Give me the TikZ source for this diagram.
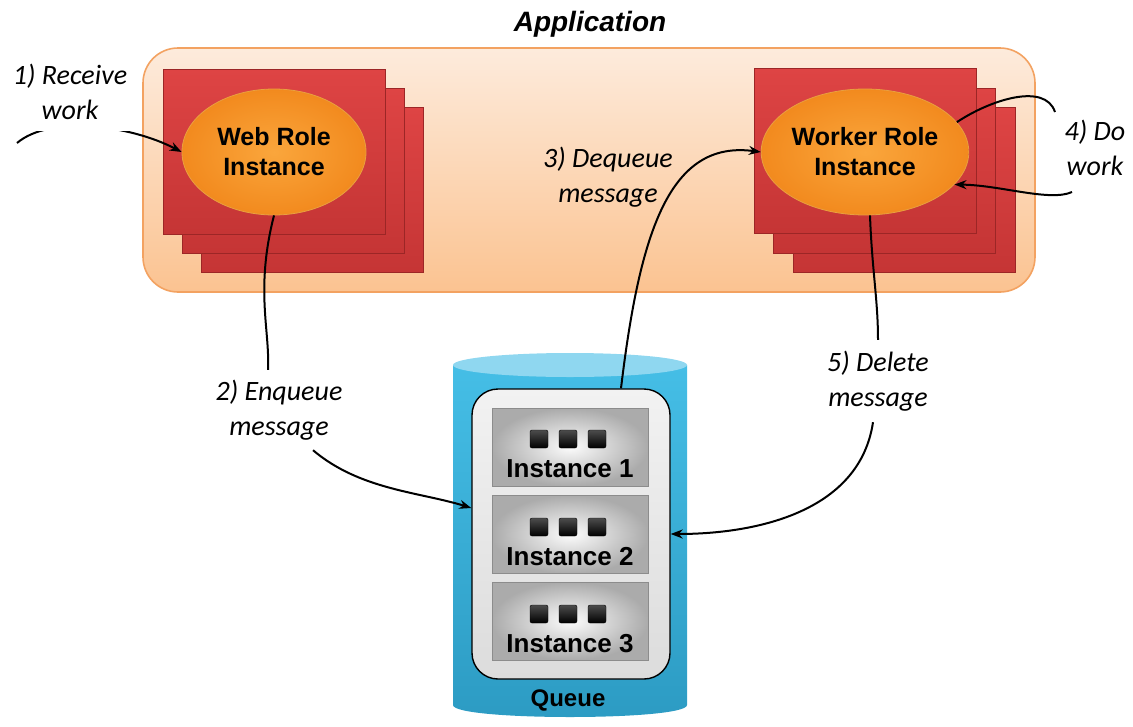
\documentclass[tikz,border=0pt]{standalone}
\usepackage{fontspec}
\setmainfont{Liberation Sans}
\newfontfamily\lblfont{Carlito}
\usetikzlibrary{arrows.meta,shapes.geometric}
\definecolor{appfillA}{HTML}{FDEBDC}
\definecolor{appfillB}{HTML}{FBC391}
\definecolor{appline}{HTML}{F3A261}
\definecolor{redA}{HTML}{DE4444}
\definecolor{redB}{HTML}{C53535}
\definecolor{redline}{HTML}{9C2626}
\definecolor{orA}{HTML}{FAA63C}
\definecolor{orB}{HTML}{F28A1E}
\definecolor{orline}{HTML}{E8A040}
\definecolor{cylA}{HTML}{45BEE6}
\definecolor{cylB}{HTML}{2C9BC3}
\definecolor{cyltop}{HTML}{8FD7F0}
\definecolor{qfillA}{HTML}{F2F2F2}
\definecolor{qfillB}{HTML}{DCDCDC}
\definecolor{silverA}{HTML}{FCFCFC}
\definecolor{silverB}{HTML}{ABABAB}
\begin{document}
\begin{tikzpicture}[x=1pt,y=-1pt,
  appbox/.style={rectangle, rounded corners=35pt, minimum width=892pt, minimum height=244pt, inner sep=0pt, top color=appfillA, bottom color=appfillB, draw=appline, line width=1.6pt},
  redcard/.style={rectangle, minimum width=222pt, minimum height=165pt, inner sep=0pt, top color=redA, bottom color=redB, draw=redline, line width=0.8pt},
  roleoval/.style={ellipse, minimum width=184pt, minimum height=126pt, inner sep=0pt, inner color=orA, outer color=orB, draw=orline, line width=0.8pt, align=center, font=\fontsize{25}{30}\selectfont\bfseries},
  qframe/.style={rectangle, rounded corners=26pt, minimum width=198pt, minimum height=290pt, inner sep=0pt, top color=qfillA, bottom color=qfillB, draw=black, line width=1.4pt},
  instbox/.style={rectangle, minimum width=156pt, minimum height=78pt, inner sep=0pt, inner color=silverA, outer color=silverB, draw=black!45, line width=0.6pt},
  insttext/.style={font=\fontsize{26}{30}\selectfont\bfseries, inner sep=0pt},
  sqr/.style={rectangle, rounded corners=2pt, minimum size=18pt, inner sep=0pt, top color=black!70, bottom color=black, draw=black},
  lbl/.style={align=center, inner sep=0pt, font=\fontsize{28}{35}\selectfont\lblfont\itshape},
  conn/.style={line width=2pt, draw=black},
  arrowconn/.style={conn, -{Stealth[length=12pt,width=9pt]}}
]
\useasboundingbox (0,0) rectangle (1133,726);

% title and application container
\node[font=\fontsize{28}{32}\selectfont\bfseries\itshape, inner sep=0pt] (title) at (590,24) {Application};
\node[appbox] (app) at (589,170) {};

% web role stack
\node[redcard] (wc3) at (312.5,190) {};
\node[redcard] (wc2) at (293,171) {};
\node[redcard] (wc1) at (274,151.5) {};
\node[roleoval] (web) at (274,152) {Web Role\\Instance};

% worker role stack
\node[redcard] (kc3) at (904.5,190) {};
\node[redcard] (kc2) at (884.5,170.5) {};
\node[redcard] (kc1) at (865,150.5) {};
\node[roleoval] (worker) at (865,152) {Worker Role\\Instance};

% queue cylinder
\path[top color=cylA, bottom color=cylB] (453,365) -- (453,705) .. controls (453,721) and (687,721) .. (687,705) -- (687,365) -- cycle;
\fill[cyltop] (570,365) ellipse [x radius=117pt, y radius=12pt];
\node[qframe] (qbox) at (571,534) {};

\node[instbox] (i1) at (570,447) {};
\node[sqr] (i1a) at (539,439) {};
\node[sqr] (i1b) at (568,439) {};
\node[sqr] (i1c) at (597,439) {};
\node[insttext, anchor=base] (t1) at (570,477) {Instance 1};

\node[instbox] (i2) at (570,534.5) {};
\node[sqr] (i2a) at (539,527) {};
\node[sqr] (i2b) at (568,527) {};
\node[sqr] (i2c) at (597,527) {};
\node[insttext, anchor=base] (t2) at (570,565) {Instance 2};

\node[instbox] (i3) at (570,621) {};
\node[sqr] (i3a) at (539,614) {};
\node[sqr] (i3b) at (568,614) {};
\node[sqr] (i3c) at (597,614) {};
\node[insttext, anchor=base] (t3) at (570,652) {Instance 3};

\node[font=\fontsize{24}{28}\selectfont\bfseries, inner sep=0pt] (qlabel) at (568,700) {Queue};

% labels
\node[lbl, minimum width=172pt, minimum height=80pt] (l2) at (279,410) {2) Enqueue\\message};
\node[lbl, minimum width=170pt, minimum height=82pt] (l5) at (878,381) {5) Delete\\message};
\node[lbl] (l3) at (608,177) {3) Dequeue\\message};
\node[lbl] (l4) at (1095,148) {4) Do\\work};

% connectors
\coordinate (r0) at (17,143);
\draw[arrowconn] (r0) .. controls (50,115) and (130,125) .. (web.west);
\node[lbl, fill=white, minimum width=140pt, minimum height=78pt] (l1) at (70,92) {1) Receive\\work};

\draw[conn] (web.south) .. controls (255,290) and (270,330) .. ([xshift=-11pt]l2.north);
\draw[arrowconn] ([xshift=34pt]l2.south) .. controls (360,490) and (420,492) .. ([yshift=26pt]qbox.west);

\draw[arrowconn] ([xshift=50pt]qbox.north) .. controls (640,230) and (670,140) .. (worker.west);

\coordinate (w4a) at (1055,112);
\draw[conn] (worker.18) .. controls (990,100) and (1045,82) .. (w4a);
\coordinate (w4b) at (1072,192);
\draw[arrowconn] (w4b) .. controls (1050,202) and (1000,185) .. (worker.-20);

\draw[conn] ([xshift=5pt]worker.south) .. controls (872,270) and (878,300) .. (l5.north);
\draw[arrowconn] ([xshift=-5pt]l5.south) .. controls (860,510) and (760,534) .. (qbox.east);
\end{tikzpicture}
\end{document}
